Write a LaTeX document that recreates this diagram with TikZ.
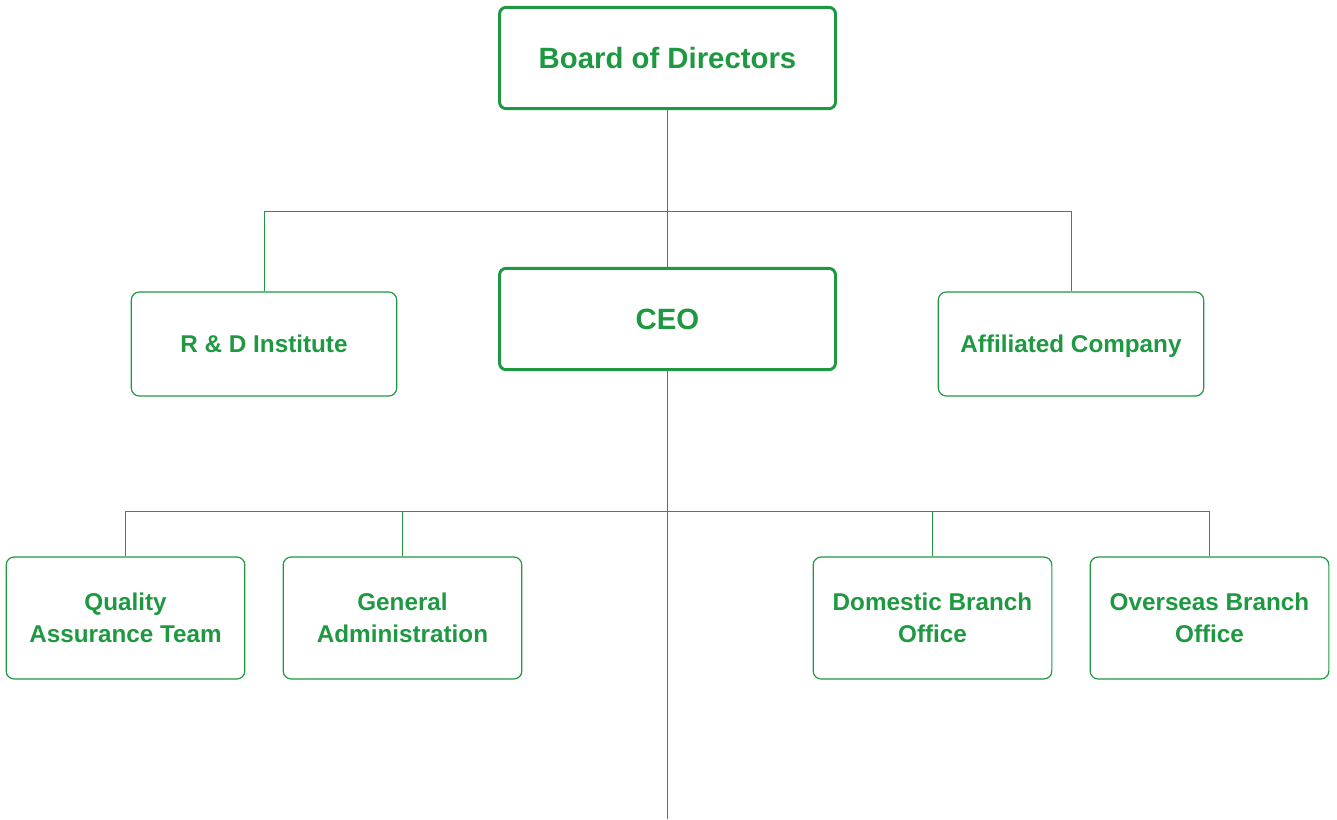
\documentclass[tikz,border=0pt]{standalone}
\usepackage{fontspec}
\setmainfont{Liberation Sans}
\usetikzlibrary{positioning}
\definecolor{orggreen}{RGB}{30,152,65}

\begin{document}
\begin{tikzpicture}[x=0.75pt,y=-0.75pt,
  top/.style={draw=orggreen,line width=2.2pt,rounded corners=5pt,minimum width=252pt,minimum height=76pt,inner sep=0pt,text=orggreen,text height=15.8pt,text depth=0pt,font=\fontsize{22}{26}\selectfont\bfseries},
  side/.style={draw=orggreen,line width=0.9pt,rounded corners=6pt,minimum width=199pt,minimum height=78pt,inner sep=0pt,text=orggreen,text height=13pt,text depth=0pt,font=\fontsize{18.2}{24}\selectfont\bfseries},
  unit/.style={draw=orggreen,line width=0.9pt,rounded corners=6pt,minimum width=179pt,minimum height=91.5pt,inner sep=0pt,text=orggreen,align=center,font=\fontsize{18.2}{24}\selectfont\bfseries},
  link/.style={draw=orggreen,line width=0.7pt}]
\useasboundingbox (0,0) rectangle (1337,819);

\node[top] (board) at (667.5,58) {Board of Directors};
\node[top] (ceo) at (667.5,319) {CEO};
\node[side] (rd) at (264,344) {R \& D Institute};
\node[side] (aff) at (1071,344) {Affiliated Company};

\node[unit] (qa) at (125.5,618) {Quality\\Assurance Team};
\node[unit] (ga) at (402.5,618) {General\\Administration};
\node[unit] (dom) at (932.5,618) {Domestic Branch\\Office};
\node[unit] (over) at (1209.5,618) {Overseas Branch\\Office};

\coordinate (bus1) at (667.5,211);
\coordinate (bus2) at (667.5,511);
\coordinate (tail) at (667.5,819);

\path[link]
(board) -- (ceo)
(rd.north) |- (bus1) -| (aff.north)
(ceo) -- (tail)
(qa.north) |- (bus2) -| (over.north)
(ga.north) -- (ga.north |- bus2)
(dom.north) -- (dom.north |- bus2);
\end{tikzpicture}
\end{document}
